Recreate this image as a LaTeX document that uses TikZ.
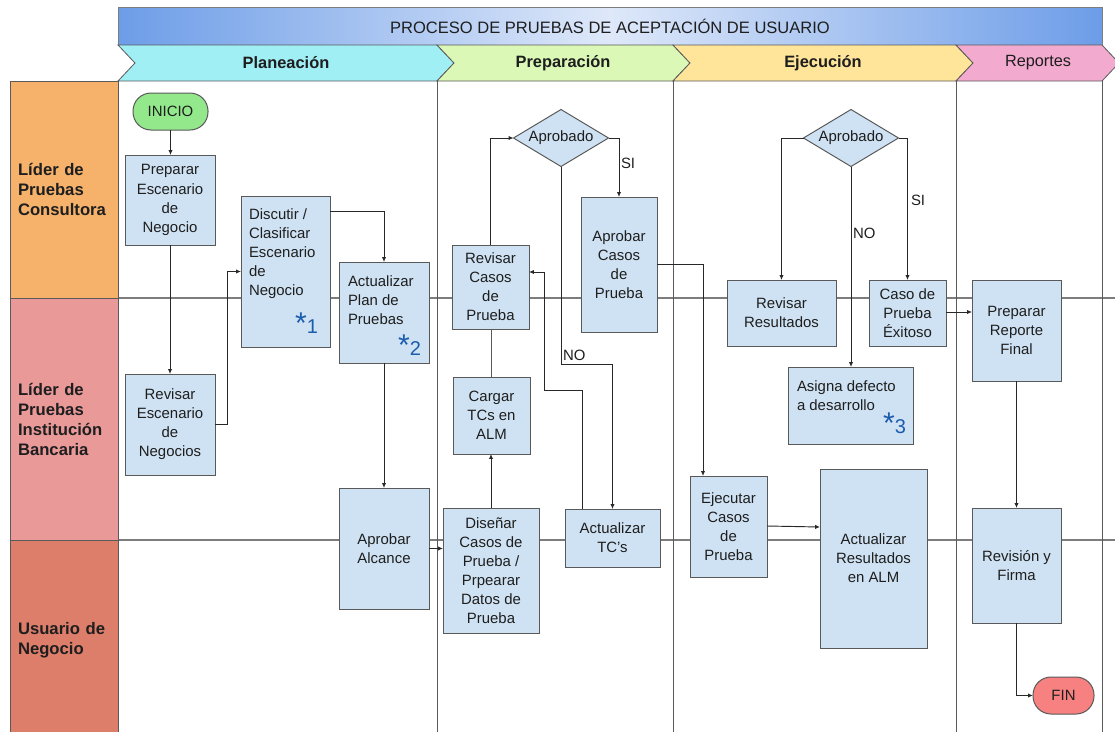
\documentclass[tikz,border=0pt]{standalone}
\usepackage{fontspec}
\setmainfont{Liberation Sans}
\usetikzlibrary{arrows.meta,shapes.geometric,calc}

\definecolor{boxfill}{RGB}{207,226,243}
\definecolor{boxline}{RGB}{89,89,89}
\definecolor{ink}{RGB}{30,30,30}
\definecolor{wire}{RGB}{40,40,40}
\definecolor{edge}{RGB}{90,90,90}
\definecolor{lanegray}{RGB}{125,125,125}
\definecolor{markblue}{RGB}{28,92,172}
\definecolor{titleblue}{RGB}{109,157,232}
\definecolor{titlelight}{RGB}{222,232,249}
\definecolor{phA}{RGB}{160,239,245}
\definecolor{phB}{RGB}{219,248,182}
\definecolor{phC}{RGB}{255,229,153}
\definecolor{phD}{RGB}{242,170,206}
\definecolor{laneA}{RGB}{246,178,107}
\definecolor{laneB}{RGB}{234,153,153}
\definecolor{laneC}{RGB}{221,126,107}
\definecolor{startgreen}{RGB}{147,232,140}
\definecolor{endred}{RGB}{247,128,128}

\newcommand\flowfont{\fontsize{11.2}{14.3}\selectfont}
\newcommand\astmark[1]{{\fontsize{22.5}{22.5}\selectfont *}{\fontsize{15}{15}\selectfont #1}}

\begin{document}
\begin{tikzpicture}[x=0.75pt,y=-0.75pt,
  every node/.style={inner sep=0pt,outer sep=0pt,text=ink,font=\flowfont},
  wh/.style 2 args={/utils/exec={\pgfmathsetlengthmacro\nodew{#1*0.75pt}\pgfmathsetlengthmacro\nodeh{#2*0.75pt}},
    minimum width=\nodew,minimum height=\nodeh},
  box/.style={draw=boxline,line width=0.75pt,fill=boxfill,align=center},
  decision/.style={diamond,aspect=1.67,draw=boxline,line width=0.75pt,fill=boxfill,wh={95}{57}},
  lanehead/.style={draw=edge,line width=0.75pt,align=left,text width=69pt,
    font=\fontsize{12.5}{15}\bfseries},
  phase/.style={draw=edge,line width=0.6pt},
  phaselabel/.style={font=\fontsize{12.3}{14}\bfseries},
  laneline/.style={draw=lanegray,line width=1.1pt},
  divider/.style={draw=edge,line width=0.75pt},
  flow/.style={draw=wire,line width=0.7pt,-{Latex[length=3.6pt,width=3.2pt]}},
  link/.style={draw=edge,line width=0.7pt},
  marker/.style={text=markblue},
  note/.style={anchor=west}]
\useasboundingbox (0,0) rectangle (1115,732);

% title bar
\shade[left color=titleblue,right color=titleblue,middle color=titlelight,draw=lanegray,line width=0.5pt]
  (118,7) rectangle (1102,45);
\node[font=\fontsize{12.4}{14}\selectfont] (title) at (610,26) {PROCESO DE PRUEBAS DE ACEPTACIÓN DE USUARIO};

% phase chevrons
\filldraw[phase,fill=phA] (118,45) -- (437,45) -- (454,63) -- (437,81) -- (118,81) -- (135,63) -- cycle;
\filldraw[phase,fill=phB] (437,45) -- (673,45) -- (690,63) -- (673,81) -- (437,81) -- (454,63) -- cycle;
\filldraw[phase,fill=phC] (673,45) -- (956,45) -- (973,63) -- (956,81) -- (673,81) -- (690,63) -- cycle;
\filldraw[phase,fill=phD] (956,45) -- (1102,45) -- (1119,63) -- (1102,81) -- (956,81) -- (973,63) -- cycle;
\node[phaselabel] (ph1) at (286,63) {Planeación};
\node[phaselabel] (ph2) at (563,63) {Preparación};
\node[phaselabel] (ph3) at (823,63) {Ejecución};
\node[font=\fontsize{12.2}{14}\selectfont] (ph4) at (1038,63) {Reportes};

% swimlane grid
\draw[laneline] (118,298) -- (1115,298);
\draw[laneline] (118,540) -- (1115,540);
\draw[divider] (437,81) -- (437,740);
\draw[divider] (673,81) -- (673,740);
\draw[divider] (956,81) -- (956,740);
\draw[divider] (1102,81) -- (1102,740);

% lane headers
\node[lanehead,fill=laneA,wh={108}{217}] (leadA) at (64,189.5) {Líder de\\Pruebas\\Consultora};
\node[lanehead,fill=laneB,wh={108}{242}] (leadB) at (64,419) {Líder de\\Pruebas\\Institución\\Bancaria};
\node[lanehead,fill=laneC,wh={108}{200}] (leadC) at (64,640) {Usuario de\\Negocio};

% activities
\node[box,wh={75}{37},fill=startgreen,rounded corners=13.5pt] (inicio) at (170.5,111.5) {INICIO};
\node[box,wh={90}{90}] (prep) at (170,200) {Preparar\\Escenario\\de\\Negocio};
\node[box,wh={90}{101}] (revesc) at (170,424.5) {Revisar\\Escenario\\de\\Negocios};
\node[box,wh={89}{151}] (disc) at (285.5,271.5) {};
\node[anchor=west,align=left] (disct) at (249,253.5) {Discutir /\\Clasificar\\Escenario\\de\\Negocio};
\node[marker,anchor=base east] (discm) at (318,333) {\astmark{1}};
\node[box,wh={90}{101}] (plan) at (384,312.5) {};
\node[anchor=west,align=left] (plant) at (348,300.5) {Actualizar\\Plan de\\Pruebas};
\node[marker,anchor=base east] (planm) at (421,355) {\astmark{2}};
\node[box,wh={90}{121}] (alc) at (384,548.5) {Aprobar\\Alcance};
\node[box,wh={77}{84}] (revcas) at (490.5,287) {Revisar\\Casos\\de\\Prueba};
\node[box,wh={77}{77}] (cargar) at (491.5,415.5) {Cargar\\TCs en\\ALM};
\node[box,wh={96}{125}] (disenar) at (491,570.5) {Diseñar\\Casos de\\Prueba /\\Prpearar\\Datos de\\Prueba};
\node[decision] (dia1) at (561,138) {Aprobado};
\node[box,wh={76}{135}] (aprcas) at (619,264.5) {Aprobar\\Casos\\de\\Prueba};
\node[box,wh={95}{58}] (acttc) at (612.5,538) {Actualizar\\TC’s};
\node[box,wh={77}{101}] (ejec) at (728.5,526.5) {Ejecutar\\Casos\\de\\Prueba};
\node[box,wh={107}{179}] (actres) at (873.5,558.5) {Actualizar\\Resultados\\en ALM};
\node[decision] (dia2) at (851,138) {Aprobado};
\node[box,wh={109}{66}] (revres) at (781.5,313) {Revisar\\Resultados};
\node[box,wh={77}{66}] (exito) at (907.5,313) {Caso de\\Prueba\\Éxitoso};
\node[box,wh={125}{77}] (asigna) at (850.5,405.5) {};
\node[anchor=west,align=left] (asignat) at (797,395.5) {Asigna defecto\\a desarrollo};
\node[marker,anchor=base east] (asignam) at (906,433) {\astmark{3}};
\node[box,wh={89}{101}] (reporte) at (1016.5,330.5) {Preparar\\Reporte\\Final};
\node[box,wh={89}{115}] (firma) at (1016.5,565.5) {Revisión y\\Firma};
\node[box,wh={61}{37},fill=endred,rounded corners=13.5pt] (fin) at (1063.5,695.5) {FIN};

% connectors
\begin{scope}[on background layer/.style={}]
\draw[flow] (inicio) -- (inicio |- prep.north);
\draw[flow] (prep) -- (prep |- revesc.north);
\draw[flow] (revesc.east) -- ++(12,0) |- (disc.west);
\draw[flow] ($(disc.north east)+(0,15)$) -| (plan.north);
\draw[flow] (plan) -- (alc);
\draw[flow] (alc.east) -- (alc.east -| disenar.west);
\draw[flow] (disenar.north) -- (disenar.north |- cargar.south);
\draw[link] (cargar.north) -- (cargar.north |- revcas.south);
\draw[flow] (revcas.north) |- (dia1.west);
\draw[flow] (dia1.east) -| (aprcas.north);
\draw[flow] (dia1.south) |- ($(acttc.north)+(0,-145)$) -- (acttc.north);
\draw[flow] ($(acttc.north west)+(17,0)$) |- ($(revcas.north east)+(15,145)$) |- ($(revcas.north east)+(0,27)$);
\draw[flow] ($(aprcas.north east)+(0,67)$) -| ($(ejec.north west)+(13,0)$);
\draw[flow] ($(ejec.north east)+(0,50)$) -- ($(actres.north west)+(0,58)$);
\draw[flow] (dia2.west) -| (revres.north);
\draw[flow] (dia2.east) -| (exito.north);
\draw[flow] (dia2.south) -- (dia2.south |- asigna.north);
\draw[flow] ($(exito.north east)+(0,32)$) -- ($(reporte.north west)+(0,32)$);
\draw[flow] (reporte) -- (firma);
\draw[flow] (firma.south) |- (fin.west);
\end{scope}

% branch labels
\node[note] (si1) at (621,163) {SI};
\node[note] (no1) at (563,355) {NO};
\node[note] (si2) at (911,200) {SI};
\node[note] (no2) at (853,233) {NO};
\end{tikzpicture}
\end{document}
